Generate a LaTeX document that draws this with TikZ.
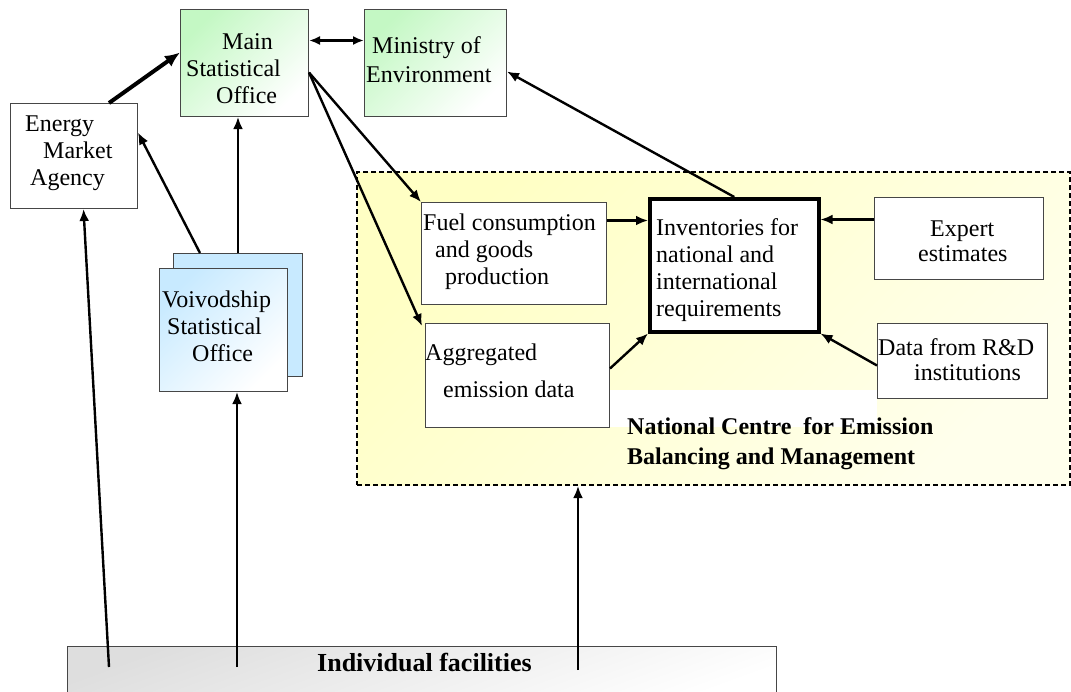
\documentclass[tikz,border=0pt]{standalone}
\usepackage{fontspec}
\setmainfont{Liberation Serif}
\usetikzlibrary{arrows.meta}
\definecolor{greenL}{RGB}{196,248,196}
\definecolor{blueL}{RGB}{200,234,255}
\definecolor{yellowL}{RGB}{255,255,196}
\definecolor{yellowW}{RGB}{255,255,236}
\definecolor{grayL}{RGB}{222,222,222}
\definecolor{edge}{RGB}{70,70,70}
\begin{document}
\begin{tikzpicture}[x=1pt,y=-1pt,
  box/.style={draw=edge, line width=1pt, inner sep=0pt, anchor=north west},
  greenbox/.style={box, top color=greenL, bottom color=white, shading angle=45},
  txt/.style={inner sep=0pt, anchor=north west, align=left, font=\fontsize{24}{27}\selectfont},
  btxt/.style={inner sep=0pt, anchor=north west, align=left, font=\fontsize{24}{27}\selectfont\bfseries},
  arr/.style={line width=2.4pt, -{Latex[length=12pt,width=10pt]}},
  thickarr/.style={line width=4pt, -{Latex[length=15pt,width=13pt]}},
  dblarr/.style={line width=2.6pt, {Latex[length=11pt,width=9pt]}-{Latex[length=11pt,width=9pt]}}
]
\useasboundingbox (0,0) rectangle (1071,691);

% National centre region
\node[draw=black, line width=2pt, dash pattern=on 5pt off 3pt, inner sep=0pt, anchor=north west,
  minimum width=713pt, minimum height=313pt, top color=yellowL, bottom color=yellowW, shading angle=45]
  (ncem) at (356,171) {};
\fill[white] (590,390) rectangle (877,427);

% top boxes
\node[greenbox, minimum width=128pt, minimum height=107pt] (mso) at (180,9) {};
\node[greenbox, minimum width=142pt, minimum height=107pt] (moe) at (364,9) {};
\node[box, fill=white, minimum width=127pt, minimum height=105pt] (ema) at (10,103) {};

% voivodship (stacked)
\node[box, fill=blueL, minimum width=129pt, minimum height=123pt] (vsob) at (173,253) {};
\node[box, top color=blueL, bottom color=white, shading angle=45, minimum width=128pt, minimum height=123pt] (vso) at (159,268) {};

% boxes in the centre
\node[box, fill=white, minimum width=185pt, minimum height=102pt] (fuel) at (421,202) {};
\node[box, fill=white, minimum width=184pt, minimum height=104pt] (agg) at (425,323) {};
\node[box, draw=black, line width=3.5pt, fill=white, minimum width=169pt, minimum height=133pt] (inv) at (648,197) {};
\node[box, fill=white, minimum width=169pt, minimum height=82pt] (exp) at (874,197) {};
\node[box, fill=white, minimum width=170pt, minimum height=75pt] (rd) at (877,323) {};

% facilities
\node[box, top color=grayL, bottom color=white, shading angle=20, minimum width=709pt, minimum height=55pt] (fac) at (67,646) {};

% texts
\node[txt] (msoT) at (186,33.6) {\hspace*{36pt}Main\\Statistical\\\hspace*{30pt}Office};
\node[txt] (moeT) at (366,36.6) {\hspace*{6pt}Ministry of\\[2pt]Environment};
\node[txt] (emaT) at (25,116) {Energy\\\hspace*{18pt}Market\\\hspace*{5pt}Agency};
\node[txt] (vsoT) at (162,291) {Voivodship\\\hspace*{5pt}Statistical\\\hspace*{30pt}Office};
\node[txt] (fuelT) at (423,213.6) {Fuel consumption\\\hspace*{12pt}and goods\\\hspace*{22pt}production};
\node[txt] (aggT) at (425,343.6) {Aggregated\\[10pt]\hspace*{18pt}emission data};
\node[txt] (invT) at (656,218.6) {Inventories for\\national and\\international\\requirements};
\node[txt] (expT) at (918,221) {\hspace*{12pt}Expert\\[-2pt]estimates};
\node[txt] (rdT) at (878,338.6) {Data from R\&D\\[-2pt]\hspace*{36pt}institutions};
\node[btxt] (ncT) at (627,417) {National Centre\ \ for Emission\\[3pt]Balancing and Management};
\node[inner sep=0pt, anchor=north west, font=\fontsize{26}{29}\selectfont\bfseries] (facT) at (317,653) {Individual facilities};

% connectors
\draw[thickarr] ([xshift=-29pt]ema.north east) -- ([yshift=10.5pt]mso.west);
\draw[dblarr] ([yshift=22.5pt]mso.east) -- ([yshift=22.5pt]moe.west);
\draw[arr] ([xshift=27pt]vsob.north west) -- ([yshift=23.5pt]ema.east);
\draw[arr] (vsob.north) -- (vsob.north |- mso.south);
\draw[arr] ([yshift=-9.5pt]mso.east) -- (fuel.north west);
\draw[arr] ([yshift=-9.5pt]mso.east) -- ([xshift=-3pt,yshift=-3pt]agg.north west);
\draw[arr] ([yshift=33pt]fuel.east) -- ([yshift=33pt]fuel.east -| inv.west);
\draw[arr] ([yshift=7pt]agg.east) -- (inv.south west);
\draw[arr] ([yshift=19pt]exp.west) -- ([yshift=19pt]exp.west -| inv.east);
\draw[arr] ([yshift=-4.5pt]rd.west) -- (inv.south east);
\draw[arr] (inv.north) -- ([yshift=-8.5pt]moe.east);

\coordinate (f1) at (109,667);
\coordinate (f2) at (237,667);
\coordinate (f3) at (578,670);
\draw[arr] (f1) -- ([xshift=9.5pt]ema.south);
\draw[arr] (f2) -- (f2 |- vso.south);
\draw[arr] (f3) -- (f3 |- ncem.south);
\end{tikzpicture}
\end{document}
